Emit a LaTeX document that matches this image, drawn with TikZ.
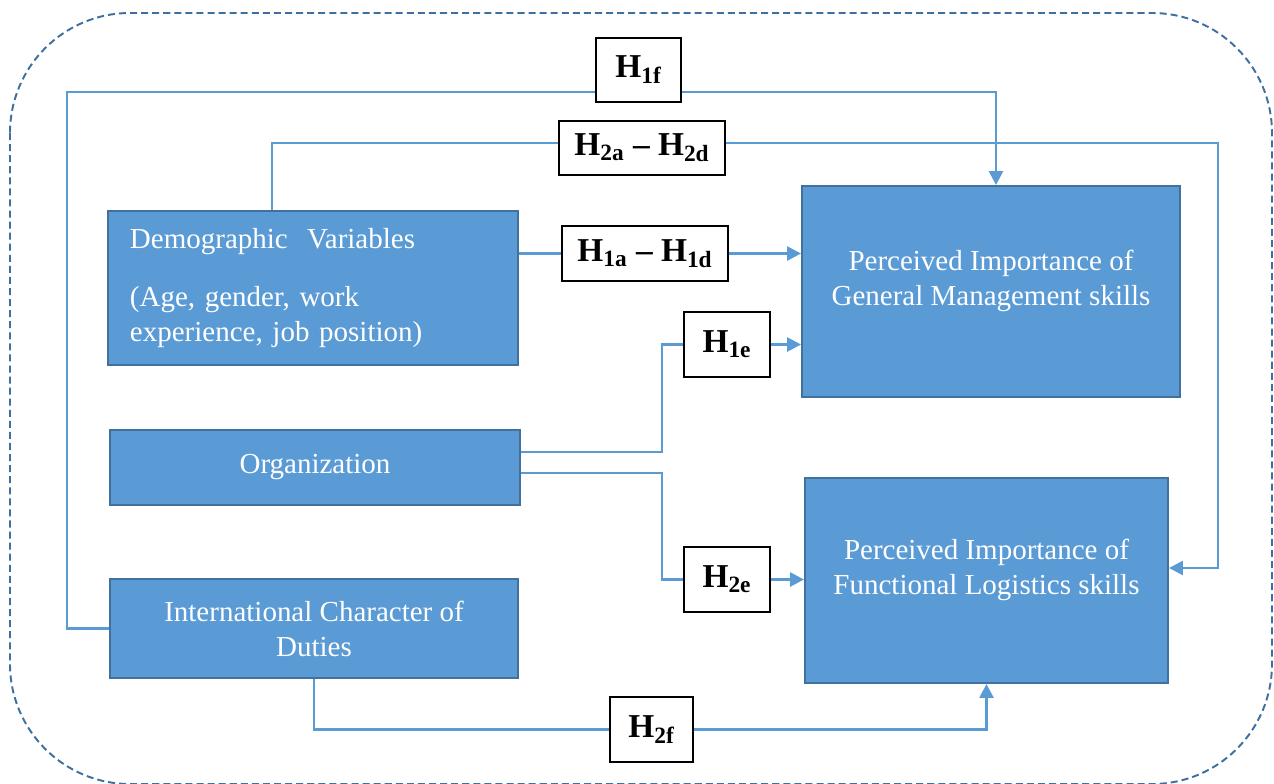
\documentclass[tikz,border=0pt]{standalone}
\usepackage{fontspec}
\setmainfont{Liberation Serif}
\usetikzlibrary{arrows.meta}
\definecolor{blkfill}{HTML}{5B9BD5}
\definecolor{blkline}{HTML}{41719C}
\definecolor{frameline}{HTML}{3E6F9E}
\newcommand{\hyp}[1]{H\textsubscript{#1}}
\begin{document}
\begin{tikzpicture}[>={Triangle[length=0.28cm,width=0.28cm]},
	blk/.style={draw=blkline, fill=blkfill, line width=1.1pt, text=white, font=\fontsize{16.5}{20}\selectfont, align=center},
	blktxt/.style={text=white, font=\fontsize{16.5}{20}\selectfont, align=center},
	hbox/.style={draw=black, fill=white, line width=0.6pt, inner sep=0pt, font=\fontsize{19}{22}\selectfont\bfseries},
	link/.style={draw=blkfill, line width=1.5pt},
	frame/.style={draw=frameline, line width=1.1pt, dash pattern=on 4pt off 2.3pt, rounded corners=2.4cm}]
		\useasboundingbox (0,0) rectangle (25.48,-15.66);
		\draw[frame] (0.2,-0.26) rectangle (25.44,-15.68);
		% blocks
		\node[blk, minimum width=8.2cm, minimum height=3.08cm, align=left, text width=7.32cm, inner xsep=0.44cm] (demo) at (6.26,-5.76)
			{Demographic\ \ Variables\\[0.46cm] (Age, gender, work\\ experience, job position)};
		\node[blk, minimum width=8.2cm, minimum height=1.5cm] (org) at (6.3,-9.35) {Organization};
		\node[blk, minimum width=8.16cm, minimum height=1.98cm] (intl) at (6.28,-12.57) {International Character of\\ Duties};
		\node[blk, minimum width=7.56cm, minimum height=4.22cm] (gen) at (19.82,-5.83) {};
		\node[blktxt] (gent) at ([yshift=0.21cm]gen.center) {Perceived Importance of\\ General Management skills};
		\node[blk, minimum width=7.26cm, minimum height=4.1cm] (fun) at (19.73,-11.61) {};
		\node[blktxt] (funt) at ([yshift=0.21cm]fun.center) {Perceived Importance of\\ Functional Logistics skills};
		% hypotheses
		\node[hbox, minimum width=1.7cm, minimum height=1.28cm] (h1f) at (12.77,-1.4) {\hyp{1f}};
		\node[hbox, minimum width=3.32cm, minimum height=1.08cm] (h2ad) at (12.84,-2.96) {\hyp{2a} -- \hyp{2d}};
		\node[hbox, minimum width=3.32cm, minimum height=1.1cm] (h1ad) at (12.9,-5.07) {\hyp{1a} -- \hyp{1d}};
		\node[hbox, minimum width=1.72cm, minimum height=1.3cm] (h1e) at (14.54,-6.89) {\hyp{1e}};
		\node[hbox, minimum width=1.72cm, minimum height=1.3cm] (h2e) at (14.54,-11.59) {\hyp{2e}};
		\node[hbox, minimum width=1.66cm, minimum height=1.3cm] (h2f) at (13.03,-14.59) {\hyp{2f}};
		\coordinate (r1) at (1.34,-1.84);
		\coordinate (c1) at (19.92,-1.84);
		\coordinate (r2) at (5.44,-2.86);
		\coordinate (c2) at (24.36,-11.36);
		\coordinate (t1) at (13.24,-9.04);
		\coordinate (t2) at (13.24,-9.46);
		% connectors
		\draw[link] (intl.west) -| (r1) -- (r1 -| h1f.west);
		\draw[link,->] (r1 -| h1f.east) -| (c1 |- gen.north);
		\draw[link] (r2 |- demo.north) -- (r2) -- (r2 -| h2ad.west);
		\draw[link,->] (r2 -| h2ad.east) -| (c2) -- (c2 -| fun.east);
		\draw[link] (demo.east |- h1ad.west) -- (h1ad.west);
		\draw[link,->] (h1ad.east) -- (h1ad.east -| gen.west);
		\draw[link] (t1 -| org.east) -- (t1) |- (h1e.west);
		\draw[link,->] (h1e.east) -- (h1e.east -| gen.west);
		\draw[link] (t2 -| org.east) -- (t2) |- (h2e.west);
		\draw[link,->] (h2e.east) -- (h2e.east -| fun.west);
		\draw[link] (intl.south) |- (h2f.west);
		\draw[link,->] (h2f.east) -| (fun.south);
\end{tikzpicture}
\end{document}
